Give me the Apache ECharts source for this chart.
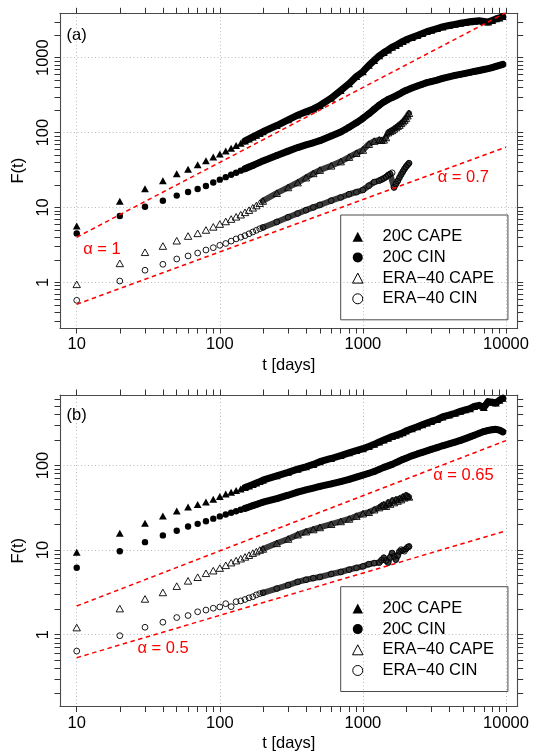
<!DOCTYPE html>
<html><head><meta charset="utf-8">
<script src="https://cdn.jsdelivr.net/npm/echarts@6/dist/echarts.min.js"></script>
<style>html,body{margin:0;padding:0;background:#fff}#c{width:539px;height:753px}</style>
</head><body><div id="c"></div>
<script>
const FONT = '"Liberation Sans", Arial, Helvetica, sans-serif';
const FS = 16.5;

// ---------- data ----------
const tEarly = [10,20,30,40,50,60,70,80,90,100,110,120,130,140,150,160,170,180,190,200];
const tDense20C = [250,300,350,400,450,500,600,700,800,900,1000,1100,1200,1300,1400,1500,1600,1700,1800,1900,2000,2200,2400,2600,2800,3000,3300,3600,4000,4400,4800,5200,5600,6000,6500,7000,7500,8000,8500,9000,9500];
const tDenseERA = [250,300,350,400,450,500,600,700,800,900,1000,1100,1200,1300,1350,1400,1450,1500,1550,1600,1650,1700,1750,1800,1850,1900,1950,2000,2050,2100];

// panel (a)
const aCape20Early = [5.65,12.1,17.8,22.8,28.2,32.3,37.2,42.1,47.0,51.7,56.8,61.9,67.0,72.1,77.2,82.3,87.4,92.4,97.5,102.5];
const aCape20Dense = [124,148,171,190,207,230,288,365,450,560,650,790,920,1060,1170,1270,1380,1460,1560,1650,1730,1860,1980,2100,2230,2320,2450,2580,2690,2790,2880,2950,3020,3070,3110,3050,3000,3150,3300,3400,3550];
const aCin20Early = [4.5,7.7,10.2,12.3,14.4,16.1,17.6,19.3,21.5,23.5,25.4,27.3,29.1,31.0,32.8,34.6,36.4,38.2,40.0,41.8];
const aCin20Dense = [49.5,56.5,63,68.5,73,78,90,102,118,135,155,178,205,232,256,277,293,310,328,348,365,393,418,442,465,480,503,528,555,580,600,618,636,655,675,695,715,738,765,790,815];
const aCapeEraEarly = [0.94,1.79,2.52,3.05,3.59,4.15,4.51,5.0,5.5,6.0,6.5,7.0,7.5,8.0,8.6,9.2,9.9,10.6,11.4,12.2];
const aCapeEraDense = [15.5,18.5,21.5,25,28.5,31.5,36,41,47,53,58.5,70,77,80,79,80,86,100,104,107,112,117,122,126,133,140,147,155,168,181];
const aCinEraEarly = [0.575,1.04,1.45,1.74,2.05,2.25,2.46,2.70,2.9,3.12,3.3,3.55,3.8,4.0,4.2,4.45,4.7,4.95,5.2,5.4];
const aCinEraDense = [6.4,7.4,8.3,9.2,10.0,10.8,12.3,13.6,15.0,16.0,17.1,19.5,21.8,22.8,23.6,24.5,25.5,27,28,29,18.5,20.5,22.5,25,27.5,30,32.5,35,37,39];

// panel (b)
const bCape20Early = [9.42,15.8,20.7,25.3,29.0,32.3,34.6,36.9,40.0,43.0,46.0,48.3,50.5,52.8,55.0,57.3,59.6,62.0,64.5,67.0];
const bCape20Dense = [75.5,83,90.5,96.5,103,111,121,131,141,150,158,168,178,190,200,210,220,228,236,244,255,272,287,303,318,332,350,375,395,415,437,455,470,500,515,485,570,560,548,590,625];
const bCin20Early = [6.18,9.68,12.4,14.9,16.9,19.0,20.4,21.9,23.5,25.0,26.3,27.6,28.8,30.0,31.1,32.3,33.5,34.6,35.7,36.8];
const bCin20Dense = [40.5,44.5,48.5,51.5,54,56.5,60.5,64.5,68.5,73,77,81,85,90,95,99,103,108,113,118,122,130,137,143,149,155,163,171,180,189,198,208,218,228,240,252,260,265,268,262,250];
const bCapeEraEarly = [1.21,2.03,2.64,3.15,3.74,4.32,4.77,5.31,5.7,6.12,6.6,7.1,7.5,7.9,8.3,8.7,9.2,9.6,10.0,10.3];
const bCapeEraDense = [12.0,13.5,15.2,16.5,17.5,18.5,20.2,21.8,23.3,25.2,26.9,28.0,30.0,31.8,33.5,34.5,33.0,36.5,35.0,38.5,36.5,39.5,38.0,40.5,39.5,42.5,41.5,44.5,43.5,42.5];
const bCinEraEarly = [0.638,0.97,1.22,1.40,1.59,1.68,1.86,1.95,2.05,2.12,2.32,2.14,2.45,2.5,2.6,2.72,2.8,2.95,3.05,3.12];
const bCinEraDense = [3.5,3.85,4.2,4.45,4.65,4.8,5.2,5.5,5.85,6.15,6.41,6.8,7.0,7.1,7.6,8.1,7.5,7.1,8.2,9.2,8.4,7.7,8.6,9.6,10.1,9.9,9.7,10.3,10.8,11.0];

// reference power-law lines: [t, F] end points
const aAlpha1 = [[10, 4.0], [10000, 4000]];
const aAlpha07 = [[10, 0.508], [10000, 63.8]];
const bAlpha065 = [[10, 2.18], [10000, 197]];
const bAlpha05 = [[10, 0.533], [10000, 16.9]];

// annotation anchor points [t, F, text]
const aNotes = [[15.0, 2.78, 'α = 1'], [5035, 24.9, 'α = 0.7']];
const bNotes = [[5035, 77, 'α = 0.65'], [40.1, 0.679, 'α = 0.5']];

const seriesNames = ['20C CAPE', '20C CIN', 'ERA−40 CAPE', 'ERA−40 CIN'];

// axes
const xRange = [7.64, 12070];
const yRangeA = [0.2453, 3917];
const yRangeB = [0.141, 682];
const xLabelValues = [10, 100, 1000, 10000];
const yLabelValuesA = [1, 10, 100, 1000];
const yLabelValuesB = [1, 10, 100];
const mantissas = [1,2,3,4,5,6,7,8,9];
const xDecades = [10, 100, 1000];
const yDecadesA = [0.1, 1, 10, 100, 1000];
const yDecadesB = [0.1, 1, 10, 100];

// ---------- build ----------
function minorTicks(decades, lo, hi, extra) {
  const out = [];
  decades.forEach(d => mantissas.forEach(m => { const v = +(d * m).toPrecision(6); if (v >= lo && v <= hi) out.push(v); }));
  (extra || []).forEach(v => out.push(v));
  return out;
}
const xTicks = minorTicks(xDecades, 10, 10000, [10000]);
const yTicksA = minorTicks(yDecadesA, yRangeA[0], yRangeA[1]);
const yTicksB = minorTicks(yDecadesB, yRangeB[0], yRangeB[1]);

function pairs(ts, vs) { return ts.map((t, i) => [t, vs[i]]); }

const lineCol = '#4a4a4a';
const tickCol = '#333';
const gridLine = { show: true, showMinLine: false, showMaxLine: false, lineStyle: { type: [1, 2.5], color: '#b8b8b8', width: 1 } };
const txt = { fontSize: FS, fontFamily: FONT, color: '#000' };

function xAxis(grid, pos, primary) {
  return {
    type: 'log', logBase: 10, gridIndex: grid, position: pos,
    min: xRange[0], max: xRange[1],
    axisLine: { show: true, onZero: false, lineStyle: { color: lineCol, width: 1.1 } },
    axisTick: { show: true, inside: false, length: 5.5, customValues: xTicks, lineStyle: { color: tickCol, width: 1 } },
    axisLabel: primary ? Object.assign({ show: true, customValues: xLabelValues, formatter: v => String(Math.round(v)), margin: 8 }, txt) : { show: false },
    splitLine: { show: false },
    name: primary ? 't [days]' : '', nameLocation: 'middle', nameGap: 28.5,
    nameTextStyle: txt
  };
}
function yAxis(grid, pos, primary, range, ticks, labels) {
  return {
    type: 'log', logBase: 10, gridIndex: grid, position: pos,
    min: range[0], max: range[1],
    axisLine: { show: true, onZero: false, lineStyle: { color: lineCol, width: 1.1 } },
    axisTick: { show: true, inside: false, length: 5.5, customValues: ticks, lineStyle: { color: tickCol, width: 1 } },
    axisLabel: primary ? Object.assign({ show: true, customValues: labels, rotate: 90, formatter: v => String(Math.round(v)), margin: 8 }, txt) : { show: false },
    splitLine: { show: false },
    name: primary ? 'F(t)' : '', nameLocation: 'middle', nameGap: 27,
    nameTextStyle: txt
  };
}
// invisible axes that only draw the dotted decade grid lines
function xGridAxis(grid) {
  return { type: 'log', logBase: 10, gridIndex: grid, min: xRange[0], max: xRange[1],
    axisLine: { show: false }, axisTick: { show: false }, axisLabel: { show: false }, splitLine: gridLine };
}
function yGridAxis(grid, range) {
  return { type: 'log', logBase: 10, gridIndex: grid, min: range[0], max: range[1],
    axisLine: { show: false }, axisTick: { show: false }, axisLabel: { show: false }, splitLine: gridLine };
}

const styles = [
  { symbol: 'triangle', size: [7.8, 7], item: { color: '#000', opacity: 1 } },
  { symbol: 'circle', size: 6.4, item: { color: '#000', opacity: 1 } },
  { symbol: 'triangle', size: [7.4, 6.6], item: { color: 'rgba(0,0,0,0)', borderColor: '#000', borderWidth: 0.9, opacity: 1 } },
  { symbol: 'circle', size: 5.8, item: { color: 'rgba(0,0,0,0)', borderColor: '#000', borderWidth: 0.9, opacity: 1 } }
];

function panelSeries(xi, yi, sets, refLines, notes) {
  const out = [];
  sets.forEach((s, k) => {
    const all = pairs(tEarly, s.early).concat(pairs(s.tDense, s.dense));
    const bandStart = k < 2 ? 150 : 200;
    out.push({
      type: 'line', name: seriesNames[k] + ' band', xAxisIndex: xi, yAxisIndex: yi,
      data: all.filter(p => p[0] >= bandStart), symbol: 'none', showSymbol: false, silent: true,
      lineStyle: { width: k < 2 ? 7 : 6, color: k < 2 ? '#000' : '#3a3a3a', opacity: 1, cap: 'round', join: 'round' },
      z: 2, animation: false
    });
    out.push({
      type: 'scatter', name: seriesNames[k], xAxisIndex: xi, yAxisIndex: yi, data: all,
      symbol: styles[k].symbol, symbolSize: styles[k].size, itemStyle: styles[k].item,
      silent: true, z: 3, animation: false
    });
  });
  refLines.forEach(rl => out.push({
    type: 'line', name: 'ref', xAxisIndex: xi, yAxisIndex: yi, data: rl, symbol: 'none',
    lineStyle: { color: '#ff0000', width: 1.5, type: [4.5, 3.5], opacity: 1 }, z: 5, silent: true, animation: false, clip: true
  }));
  out.push({
    type: 'scatter', name: 'notes', xAxisIndex: xi, yAxisIndex: yi,
    data: notes.map(n => ({ value: [n[0], n[1]], label: { formatter: n[2] } })),
    symbolSize: 1, itemStyle: { color: 'rgba(0,0,0,0)', opacity: 1 }, silent: true, z: 6, animation: false,
    label: { show: true, position: 'inside', color: '#ff0000', opacity: 1, fontSize: FS, fontFamily: FONT }
  });
  return out;
}

const setsA = [
  { early: aCape20Early, tDense: tDense20C, dense: aCape20Dense },
  { early: aCin20Early, tDense: tDense20C, dense: aCin20Dense },
  { early: aCapeEraEarly, tDense: tDenseERA, dense: aCapeEraDense },
  { early: aCinEraEarly, tDense: tDenseERA, dense: aCinEraDense }
];
const setsB = [
  { early: bCape20Early, tDense: tDense20C, dense: bCape20Dense },
  { early: bCin20Early, tDense: tDense20C, dense: bCin20Dense },
  { early: bCapeEraEarly, tDense: tDenseERA, dense: bCapeEraDense },
  { early: bCinEraEarly, tDense: tDenseERA, dense: bCinEraDense }
];

const legendData = [
  { name: seriesNames[0], icon: 'triangle', itemStyle: { color: '#000', opacity: 1 } },
  { name: seriesNames[1], icon: 'circle', itemStyle: { color: '#000', opacity: 1 } },
  { name: seriesNames[2], icon: 'triangle', itemStyle: { color: 'rgba(0,0,0,0)', borderColor: '#000', borderWidth: 1, opacity: 1 } },
  { name: seriesNames[3], icon: 'circle', itemStyle: { color: 'rgba(0,0,0,0)', borderColor: '#000', borderWidth: 1, opacity: 1 } }
];
function legend(top) {
  return {
    orient: 'vertical', left: 340.7, top: top, data: legendData, selectedMode: false,
    itemWidth: 10.5, itemHeight: 10, itemGap: 0.7,
    padding: [11.7, 14, 11, 11.3], borderColor: '#4a4a4a', borderWidth: 1, backgroundColor: 'transparent',
    textStyle: { fontSize: FS, fontFamily: FONT, color: '#000', lineHeight: 20, padding: [0, 0, 0, 14.5] }
  };
}

const option = {
  animation: false,
  backgroundColor: '#fff',
  grid: [
    { left: 60, top: 13.3, width: 457.7, height: 314.7, containLabel: false },
    { left: 60, top: 395, width: 457.7, height: 315, containLabel: false }
  ],
  xAxis: [xAxis(0, 'bottom', true), xAxis(0, 'top', false), xAxis(1, 'bottom', true), xAxis(1, 'top', false),
          xGridAxis(0), xGridAxis(1)],
  yAxis: [
    yAxis(0, 'left', true, yRangeA, yTicksA, yLabelValuesA), yAxis(0, 'right', false, yRangeA, yTicksA, yLabelValuesA),
    yAxis(1, 'left', true, yRangeB, yTicksB, yLabelValuesB), yAxis(1, 'right', false, yRangeB, yTicksB, yLabelValuesB),
    yGridAxis(0, yRangeA), yGridAxis(1, yRangeB)
  ],
  legend: [legend(215), legend(586.7)],
  graphic: [
    { type: 'text', x: 66.5, y: 35, style: { text: '(a)', fontSize: FS, fontFamily: FONT, fill: '#000', verticalAlign: 'middle' } },
    { type: 'text', x: 66.5, y: 415, style: { text: '(b)', fontSize: FS, fontFamily: FONT, fill: '#000', verticalAlign: 'middle' } }
  ],
  series: panelSeries(0, 0, setsA, [aAlpha1, aAlpha07], aNotes).concat(panelSeries(2, 2, setsB, [bAlpha065, bAlpha05], bNotes))
};

const chart = echarts.init(document.getElementById('c'), null, { renderer: 'canvas' });
chart.setOption(option);
</script></body></html>
